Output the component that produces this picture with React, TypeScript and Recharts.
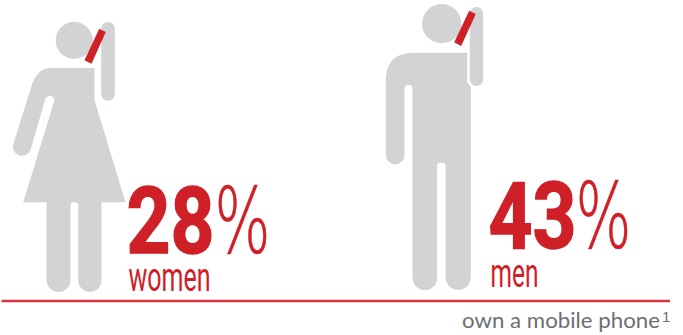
import * as React from 'react';
import { Bar, BarChart, XAxis, YAxis } from 'recharts';

const categories = ['women', 'men'];
const shares = [28, 43];
const caption = 'own a mobile phone';
const captionNote = '1';

const data = categories.map((category, i) => ({ category, share: shares[i] }));

const GREY = '#d1d3d4';
const RED = '#cf2027';
const RULE = '#d6363c';
const CAPTION = '#6d6e71';
const NARROW = "'Liberation Sans Narrow', Roboto, sans-serif";

const WOMAN_BODY =
  'M50 68 H94 V100 L125 202.3 H101 V280.35 A11.65 11.65 0 0 1 77.7 280.35 V205 Q77.7 202.3 75 202.3 H72.7 Q70 202.3 70 205 V280 A12 12 0 0 1 46 280 V202.3 H22.7 L53.3 102.5 A4.4 4.4 0 0 0 45 98.5 L30 150 A9 9 0 0 1 13 143.5 L31 86 Q37 68 50 68 Z';
const MAN_BODY =
  'M413.3 52.7 H466.7 V82 L470.3 87 V277.35 A12.65 12.65 0 0 1 445 277.35 V165.5 Q445 162.7 442 162.7 H439.7 Q436.7 162.7 436.7 165.5 V277.65 A12.35 12.35 0 0 1 412 277.65 V88.7 Q412 84.7 408 84.7 Q404 84.7 404 88.7 V155 A9.35 9.35 0 0 1 385.3 155 V80.7 Q385.3 52.7 413.3 52.7 Z';

// each pictogram is drawn in its own coordinates, hung from the point its bar lands on
const figures: Record<string, any> = {
  women: {
    originX: 128,
    originY: 301,
    body: WOMAN_BODY,
    head: { cx: 73.7, cy: 40.3, r: 18.5 },
    arm: { x: 100.7, y: 22, width: 13.6, height: 78.7 },
    phone: '98.7,28.7 105.3,32 91,63.7 84,60.3',
    numberY: 253,
    wordY: 291,
    wordWidth: 82,
    percentX: 86,
  },
  men: {
    originX: 490,
    originY: 301,
    body: MAN_BODY,
    head: { cx: 441.2, cy: 23.7, r: 19.6 },
    arm: { x: 469.3, y: 7, width: 13.4, height: 79 },
    phone: '468.7,10.7 475.3,14 460.7,46 453.7,42.3',
    numberY: 248,
    wordY: 286.5,
    wordWidth: 48,
    percentX: 85,
  },
};

function Pictogram(props: any) {
  const { x, y, width, height, payload } = props;
  const f = figures[payload.category];
  const left = x + width / 2;
  const base = y + height;
  const dx = left - f.originX;
  const dy = base - f.originY;

  return (
    <g>
      <g transform={`translate(${dx} ${dy})`}>
        <path d={f.body} fill={GREY} />
        <circle {...f.head} fill={GREY} />
        <rect {...f.arm} rx={f.arm.width / 2} fill={GREY} />
        <polygon points={f.phone} fill={RED} />
      </g>
      <text
        x={left - 2}
        y={base - 301 + f.numberY}
        fill={RED}
        stroke={RED}
        strokeWidth={1.4}
        fontFamily={NARROW}
        fontWeight={700}
        fontSize={92}
        textLength={88}
        lengthAdjust="spacingAndGlyphs"
      >
        {payload.share}
      </text>
      <text
        x={left + f.percentX}
        y={base - 301 + f.numberY}
        fill={RED}
        stroke={RED}
        strokeWidth={0.7}
        fontFamily="'DejaVu Sans', sans-serif"
        fontWeight={200}
        fontSize={90}
        textLength={56}
        lengthAdjust="spacingAndGlyphs"
      >
        %
      </text>
      <text
        x={left}
        y={base - 301 + f.wordY}
        fill={RED}
        fontFamily={NARROW}
        fontSize={40}
        textLength={f.wordWidth}
        lengthAdjust="spacingAndGlyphs"
      >
        {payload.category}
      </text>
    </g>
  );
}

export default function App() {
  return (
    <div style={{ position: 'absolute', left: 0, top: 0, width: 683, height: 335 }}>
      <BarChart width={683} height={335} data={data} margin={{ top: 0, right: 13, bottom: 4, left: 1.5 }}>
        <XAxis
          dataKey="category"
          scale="point"
          padding={{ left: 126.5, right: 180 }}
          height={30}
          tick={false}
          tickLine={false}
          axisLine={{ stroke: RULE, strokeWidth: 2.5 }}
        />
        <YAxis hide domain={[0, 100]} />
        <Bar dataKey="share" barSize={1} isAnimationActive={false} shape={<Pictogram />} />
        <text x={462} y={328} fill={CAPTION} fontFamily="Lato, sans-serif" fontSize={21} textLength={198} lengthAdjust="spacingAndGlyphs">
          {caption}
        </text>
        <text x={662} y={322} fill={CAPTION} fontFamily="Liberation Sans Narrow, sans-serif" fontSize={15}>
          {captionNote}
        </text>
      </BarChart>
    </div>
  );
}
